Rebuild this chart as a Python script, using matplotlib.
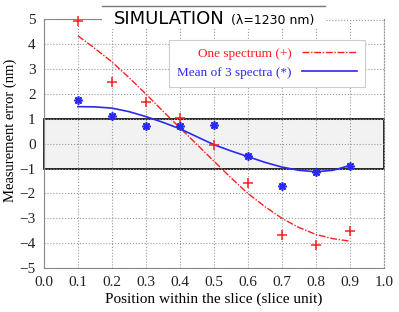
import numpy as np
import matplotlib
matplotlib.use('Agg')
import matplotlib.pyplot as plt
from matplotlib.patches import Rectangle
from matplotlib.lines import Line2D

# measured points
pos = [0.1, 0.2, 0.3, 0.4, 0.5, 0.6, 0.7, 0.8, 0.9]
err_one = [4.92, 2.49, 1.69, 1.05, -0.07, -1.57, -3.68, -4.08, -3.52]
err_mean = [1.76, 1.12, 0.72, 0.72, 0.76, -0.51, -1.71, -1.12, -0.88]
# fitted curves
fit_x = [0.1, 0.15, 0.2, 0.25, 0.3, 0.35, 0.4, 0.45, 0.5,
         0.55, 0.6, 0.65, 0.7, 0.75, 0.8, 0.85, 0.9]
fit_one = [4.34, 3.83, 3.29, 2.66, 2.0, 1.31, 0.64, -0.03, -0.7,
           -1.37, -2.0, -2.53, -3.0, -3.37, -3.65, -3.82, -3.92]
fit_mean = [1.49, 1.48, 1.43, 1.29, 1.09, 0.86, 0.60, 0.28, -0.04,
            -0.29, -0.52, -0.75, -0.94, -1.07, -1.13, -1.07, -0.88]

red = '#ff1f1f'
blue = '#2a2aee'
serif = 'Liberation Serif'

fig = plt.figure(figsize=(3.99, 3.12), dpi=100)
ax = fig.add_axes([0.110, 0.141, 0.852, 0.797])

ax.axhspan(-1, 1, facecolor='#f2f2f2', edgecolor='black', lw=1.2, zorder=1, clip_on=False)
ax.grid(True, color='#999999', ls=':', lw=0.8)

ax.plot(fit_x, fit_one, color=red, lw=1, dashes=[5, 1.2, 1, 1.2], label='One spectrum (+)', zorder=3)
ax.plot(fit_x, fit_mean, color=blue, lw=1.2, label='Mean of 3 spectra (*)', zorder=3)
ax.plot(pos, err_one, ls='none', marker='+', ms=6.5, mew=1.1, color=red, zorder=4, clip_on=False)
ax.plot(pos, err_mean, ls='none', marker=(8, 2, 0), ms=6, mew=1.2, color=blue, zorder=4)

ax.set_xlim(0, 1)
ax.set_ylim(-5, 5)
ax.set_xticks(np.arange(0, 1.01, 0.1))
ax.set_xticklabels(['%.1f' % v for v in np.arange(0, 1.01, 0.1)])
ax.set_yticks(range(-5, 6))
ax.tick_params(length=0, pad=6, labelsize=11, colors='#222222')
for lab in ax.get_xticklabels() + ax.get_yticklabels():
    lab.set_family(serif)
ax.set_xlabel('Position within the slice (slice unit)', family=serif, fontsize=11, labelpad=2)
ax.set_ylabel('Measurement error (nm)', family=serif, fontsize=10.5)
ax.yaxis.set_label_coords(-0.079, 0.555)

ax.spines['left'].set_color('#888888')
ax.spines['bottom'].set_color('#888888')
ax.spines['top'].set_color('#888888')
ax.spines['right'].set_color('#999999')
ax.spines['right'].set_linestyle(':')
# dotted bit of the top frame right of the title
fig.add_artist(Line2D([326 / 399, 383 / 399], [1 - 19.5 / 312, 1 - 19.5 / 312],
                      color='white', lw=1.4, zorder=2))
fig.add_artist(Line2D([326 / 399, 383 / 399], [1 - 19.5 / 312, 1 - 19.5 / 312],
                      color='#999999', lw=0.8, ls=':', zorder=2))

leg = ax.legend(loc='upper right', bbox_to_anchor=(0.965, 0.945), markerfirst=False,
                fancybox=False, framealpha=1, edgecolor='#cccccc',
                prop={'family': serif, 'size': 9.5}, handlelength=4.2,
                borderpad=0.6, labelspacing=0.5)
leg.get_frame().set_linewidth(0.8)
for txt, c in zip(leg.get_texts(), [red, blue]):
    txt.set_color(c)

# title box sitting on the top frame
fig.patches.append(Rectangle((102 / 399, 1 - 29 / 312), 223 / 399, 20 / 312,
                             transform=fig.transFigure, facecolor='white',
                             edgecolor='none', zorder=5))
fig.add_artist(Line2D([102 / 399, 325 / 399], [1 - 6 / 312, 1 - 6 / 312],
                      color='#777777', lw=1, zorder=6))
fig.text(225 / 399, 1 - 19.5 / 312, 'SIMULATION', ha='right', va='center',
         fontsize=13, family='DejaVu Sans', zorder=7)
fig.text(231 / 399, 1 - 20.5 / 312, '(\u03bb=1230 nm)', ha='left', va='center',
         fontsize=9, family='DejaVu Sans', zorder=7)

fig.savefig('out.png', dpi=100)
